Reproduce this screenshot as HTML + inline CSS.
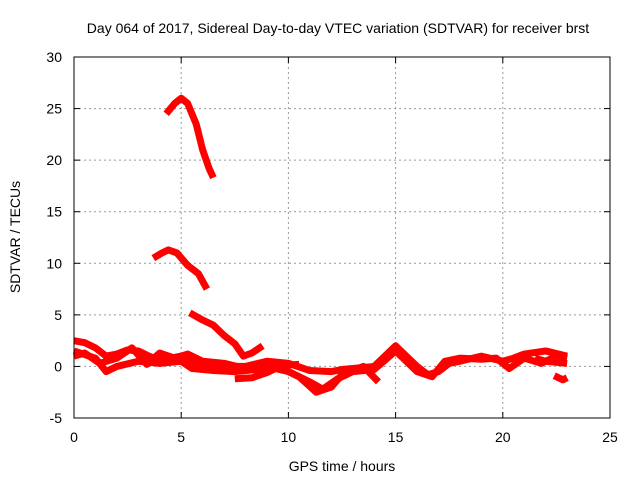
<!DOCTYPE html>
<html><head><meta charset="utf-8"><style>
body{margin:0;background:#fff;}
svg{display:block;font-family:"Liberation Sans",sans-serif;}
</style></head><body>
<svg id="chart" width="640" height="480">
<text x="338" y="33" font-size="14" text-anchor="middle">Day 064 of 2017, Sidereal Day-to-day VTEC variation (SDTVAR) for receiver brst</text>
<text x="342" y="471" font-size="14" text-anchor="middle">GPS time / hours</text>
<text transform="translate(20,237) rotate(-90)" font-size="14" text-anchor="middle">SDTVAR / TECUs</text>
<g id="grid"></g><g id="series"></g>
<rect x="74" y="57" width="536" height="361" fill="none" stroke="#000" stroke-width="1"/>
</svg>
<script>
const xTicks=[0,5,10,15,20,25];
const yTicks=[-5,0,5,10,15,20,25,30];
const seriesHigh=[[4.3,24.5],[4.7,25.5],[5,26],[5.3,25.5],[5.7,23.5],[6,21],[6.3,19.2],[6.5,18.3]];
const seriesMid=[[3.7,10.5],[4.1,11],[4.4,11.3],[4.8,11],[5.3,9.8],[5.8,9],[6.2,7.5]];
const seriesLow=[[5.4,5.2],[6,4.5],[6.5,4],[7,3],[7.5,2.2],[7.9,1],[8.3,1.3],[8.8,2]];
const track1=[[0,2.5],[0.5,2.3],[1,1.8],[1.5,1],[2,1.2],[2.5,1.6],[3,1.5],[3.5,1],[4,0.6],[4.5,0.8],[5,1],[5.5,0.5],[6,0.2],[7,0],[8,0],[9,0.5],[10,0.3],[11,-0.4],[12,-0.5],[12.5,-0.3],[13,-0.2],[14,0],[15,2],[15.5,1],[16,0],[16.5,-0.8],[17,-0.5],[17.5,0.3],[18,0.5],[19,1],[20,0.5],[20.5,0.8],[21,1.2],[22,1.5],[23,1]];
const track2=[[0,1.5],[0.7,1],[1,0.8],[1.5,-0.5],[2,0],[3,0.5],[4,0.3],[5,0.5],[5.5,-0.2],[6.5,-0.4],[7.5,-0.5],[8.5,-0.3],[9.5,0],[10.5,-1],[11.3,-2.5],[12,-2],[12.5,-0.8],[13.5,0],[14.2,-1.5]];
const track3=[[7.5,-1.2],[8.3,-1.1],[9,-0.6],[9.7,0.1],[10.5,0.2]];
const track4=[[21.5,0.8],[22,0.5],[23,0.3]];
const track5=[[22.4,-0.9],[22.8,-1.3],[23,-1.1]];
const track6=[[0,1],[0.5,1.3],[1.2,0.3],[2,0.8],[2.7,1.8],[3.4,0.2],[4,1.3],[4.7,0.8],[5.3,1.2],[6,0.5],[7,0.3],[8,-0.2],[9,0],[10,-0.5],[11,-1.5],[11.6,-2.2],[12.3,-1.2],[13,-0.5],[14,-0.3],[15,1.5],[16,-0.5],[16.7,-1],[17.3,0.5],[18,0.8],[19,0.7],[19.7,0.8],[20.3,-0.2],[21,0.8],[21.8,0.3],[22.5,1],[23,0.8]];
const sx=v=>74+v*536/25, sy=v=>418-(v+5)*361/35;
const NS="http://www.w3.org/2000/svg";
const svg=document.getElementById('chart'),grid=document.getElementById('grid'),ser=document.getElementById('series');
function ln(x1,y1,x2,y2,stroke,dash,name){const l=document.createElementNS(NS,'line');
  l.setAttribute('x1',x1);l.setAttribute('x2',x2);l.setAttribute('y1',y1);l.setAttribute('y2',y2);
  l.setAttribute('stroke',stroke);if(dash)l.setAttribute('stroke-dasharray',dash);
  
  grid.appendChild(l);}
xTicks.forEach(t=>{
  if(t>0&&t<25){ln(sx(t),57,sx(t),418,'#999','2,3','x-grid-line');}
  ln(sx(t),418,sx(t),412,'#000',null,'x-tick-mark');ln(sx(t),57,sx(t),63,'#000',null,'x-tick-mark');
  const tx=document.createElementNS(NS,'text');tx.setAttribute('x',sx(t));tx.setAttribute('y',442);
  tx.setAttribute('font-size','14');tx.setAttribute('text-anchor','middle');tx.textContent=t;
  
  svg.appendChild(tx);
});
yTicks.forEach(t=>{
  if(t>-5&&t<30){ln(74,sy(t),610,sy(t),'#999','2,3','y-grid-line');}
  ln(74,sy(t),80,sy(t),'#000',null,'y-tick-mark');ln(604,sy(t),610,sy(t),'#000',null,'y-tick-mark');
  const tx=document.createElementNS(NS,'text');tx.setAttribute('x',62);tx.setAttribute('y',sy(t)+5);
  tx.setAttribute('font-size','14');tx.setAttribute('text-anchor','end');tx.textContent=t;
  
  svg.appendChild(tx);
});
[seriesHigh,seriesMid,seriesLow,track1,track2,track3,track4,track5,track6].forEach(s=>{
  const p=document.createElementNS(NS,'polyline');
  p.setAttribute('points',s.map(d=>sx(d[0])+','+sy(d[1])).join(' '));
  p.setAttribute('fill','none');p.setAttribute('stroke','#ff0000');p.setAttribute('stroke-width','7');
  p.setAttribute('stroke-linejoin','round');
  
  ser.appendChild(p);
});
</script>
</body></html>
